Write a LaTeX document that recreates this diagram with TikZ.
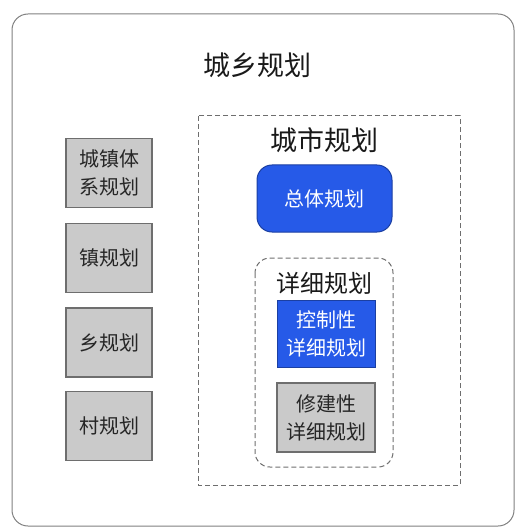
\documentclass[tikz,border=0pt]{standalone}
\usepackage{fontspec}
\setmainfont{Noto Sans CJK SC}
\usetikzlibrary{positioning}

\definecolor{planblue}{RGB}{38,90,232}
\definecolor{plangray}{RGB}{202,202,202}
\definecolor{edgegray}{RGB}{110,110,110}

\begin{document}
\begin{tikzpicture}[x = 1pt, y = -1pt,
	graybox/.style = {draw = edgegray, fill = plangray, line width = 1.2pt,
		minimum width = 86pt, minimum height = 69pt, align = center,
		font = \fontsize{20}{28}\selectfont, text = black!85},
	bluebox/.style = {draw = planblue!70!black, fill = planblue, line width = 1pt,
		minimum width = 98pt, minimum height = 67pt, align = center,
		font = \fontsize{20}{28}\selectfont, text = white},
	frame/.style = {draw = edgegray, line width = 1pt, dash pattern = on 5pt off 3pt},
	heading/.style = {font = \fontsize{27}{30}\selectfont, text = black!90}]

	% Page size and outer frame
	
	\useasboundingbox (0, 0) rectangle (520, 529);
	\draw [draw = gray, line width = 1pt, rounded corners = 16pt] (12, 14) rectangle (514, 526);
	
	\node [heading] (rural-urban) at (257, 65) {城乡规划};
	
	% Left column of plans
	
	\node [graybox] (town-system) at (109, 173) {城镇体\\系规划};
	\node [graybox] (town) at (109, 258) {镇规划};
	\node [graybox] (township) at (109, 342.5) {乡规划};
	\node [graybox] (village) at (109, 426) {村规划};
	
	% City planning frame
	
	\draw [frame] (198, 116) rectangle (460, 485);
	\node [heading] (city) at (324, 140) {城市规划};
	
	\node [bluebox, minimum width = 135pt, rounded corners = 15pt] (overall) at (324.5, 198.5) {总体规划};
	
	% Detailed planning frame
	
	\draw [frame, rounded corners = 15pt] (255, 258) rectangle (393, 467);
	\node [heading, font = \fontsize{24}{26}\selectfont] (detailed) at (324, 283) {详细规划};
	
	\node [bluebox] (regulatory) at (326, 333.5) {控制性\\详细规划};
	\node [graybox, minimum width = 98pt] (constructive) at (326, 417.5) {修建性\\详细规划};
	
\end{tikzpicture}
\end{document}
